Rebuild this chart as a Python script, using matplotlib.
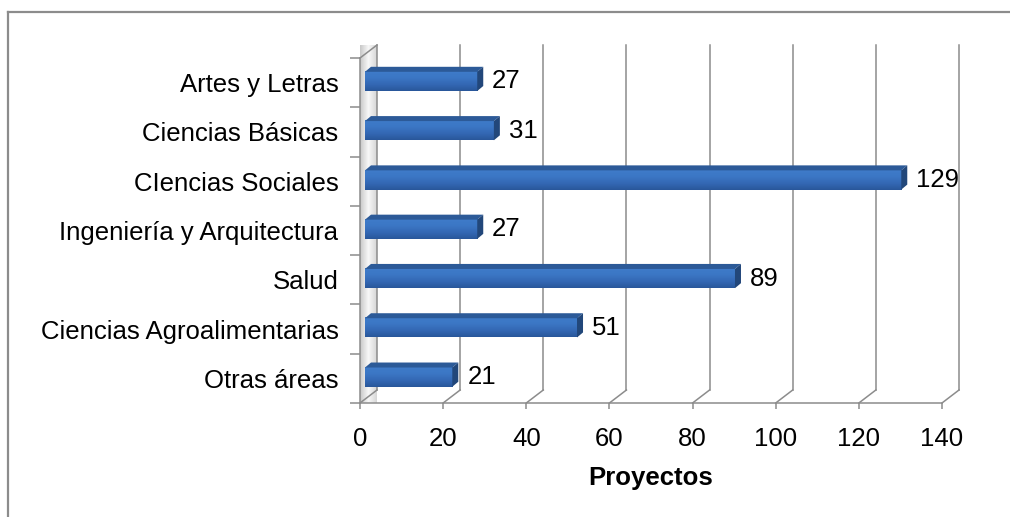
import numpy as np
import matplotlib
matplotlib.use("Agg")
import matplotlib.pyplot as plt
from matplotlib.patches import Polygon
from matplotlib.colors import LinearSegmentedColormap
from matplotlib.lines import Line2D

# data (top to bottom as shown)
categories = ["Artes y Letras", "Ciencias Básicas", "CIencias Sociales",
              "Ingeniería y Arquitectura", "Salud", "Ciencias Agroalimentarias",
              "Otras áreas"]
proyectos = [27, 31, 129, 27, 89, 51, 21]
x_ticks = [0, 20, 40, 60, 80, 100, 120, 140]
x_label = "Proyectos"

plt.rcParams['font.family'] = ['Liberation Sans', 'DejaVu Sans']
FS = 18.5
GRID = '#8c8c8c'

W, H = 1010, 517
fig = plt.figure(figsize=(W / 100, H / 100), dpi=100)
fig.patch.set_facecolor('white')

# front plane of the pseudo-3D plot
ax = fig.add_axes([360 / W, (H - 403) / H, 582 / W, 345 / H])
n = len(categories)
ax.set_xlim(0, 140)
ax.set_ylim(-0.5, n - 0.5)

ux = 140 / 582          # data units per pixel (x)
uy = n / 345            # data units per pixel (y)
DX, DY = 17 * ux, 13 * uy    # depth of the 3D box
BDX, BDY = 6 * ux, 5 * uy    # depth of each bar
BX = 5 * ux                  # bar front face starts a bit behind the wall
BAR_H = 0.39

ymin, ymax = -0.5, n - 0.5

# side wall with a grey gradient
wall = Polygon([(0, ymin), (DX, ymin + DY), (DX, ymax + DY), (0, ymax)],
               closed=True, facecolor='none', edgecolor='none', clip_on=False)
ax.add_patch(wall)
wall_cmap = LinearSegmentedColormap.from_list('wall', ['#c8c8c8', '#f8f8f8', '#d6d6d6'])
im = ax.imshow(np.linspace(0, 1, 64).reshape(1, -1), cmap=wall_cmap, aspect='auto',
               extent=[0, DX, ymin, ymax + DY], zorder=1, clip_on=False)
im.set_clip_path(wall)

# back gridlines + floor diagonals
for v in x_ticks:
    ax.add_line(Line2D([v + DX, v + DX], [ymin + DY, ymax + DY], color=GRID,
                       lw=1.1, zorder=1.5, clip_on=False))
    ax.add_line(Line2D([v, v + DX], [ymin, ymin + DY], color=GRID,
                       lw=1.1, zorder=1.5, clip_on=False))
ax.add_line(Line2D([0, DX], [ymax, ymax + DY], color=GRID, lw=1.1, zorder=1.5, clip_on=False))

# bars
face_cmap = LinearSegmentedColormap.from_list('face', ['#29579a', '#3468b4', '#3b76c4', '#3f7cca'])
for i, (cat, v) in enumerate(zip(categories, proyectos)):
    y = n - 1 - i
    x0, x1 = BX, BX + v
    y0 = y - 0.17
    y1 = y0 + BAR_H
    ax.imshow(np.linspace(0, 1, 64).reshape(-1, 1), cmap=face_cmap, aspect='auto',
              extent=[x0, x1, y0, y1], origin='lower', zorder=3, clip_on=False)
    ax.add_patch(Polygon([(x0, y1), (x1, y1), (x1 + BDX, y1 + BDY), (x0 + BDX, y1 + BDY)],
                         closed=True, facecolor='#2c5a98', edgecolor='none', zorder=3, clip_on=False))
    ax.add_patch(Polygon([(x1, y0), (x1 + BDX, y0 + BDY), (x1 + BDX, y1 + BDY), (x1, y1)],
                         closed=True, facecolor='#22477a', edgecolor='none', zorder=3, clip_on=False))
    ax.text(x1 + 15 * ux, (y0 + y1) / 2, str(v), fontsize=FS, ha='left', va='center',
            zorder=4, clip_on=False)

ax.set_xlim(0, 140)
ax.set_ylim(ymin, ymax)
ax.set_facecolor('none')

# axes styling
for s in ['top', 'right']:
    ax.spines[s].set_visible(False)
for s in ['left', 'bottom']:
    ax.spines[s].set_color(GRID)
    ax.spines[s].set_linewidth(1.1)
    ax.spines[s].set_zorder(2)

ax.set_xticks(x_ticks)
ax.set_xticklabels([str(t) for t in x_ticks], fontsize=FS)
ax.tick_params(axis='x', direction='out', length=4.3, width=1.1, color=GRID, pad=13)

ax.set_yticks(np.arange(n + 1) - 0.5)
ax.set_yticklabels([])
ax.set_yticks(np.arange(n), minor=True)
ax.set_yticklabels(categories[::-1], minor=True, fontsize=FS)
ax.tick_params(axis='y', which='major', direction='out', length=7.2, width=1.1, color=GRID)
ax.tick_params(axis='y', which='minor', length=0, pad=15.5)

ax.set_xlabel(x_label, fontsize=FS, fontweight='bold', labelpad=11)

# chart border
fig.add_artist(Line2D([8 / W, 1], [1 - 12 / H, 1 - 12 / H], color='#8c8c8c', lw=1.6,
                      transform=fig.transFigure))
fig.add_artist(Line2D([8 / W, 8 / W], [0, 1 - 12 / H], color='#8c8c8c', lw=1.6,
                      transform=fig.transFigure))

fig.savefig("out.png", dpi=100)
